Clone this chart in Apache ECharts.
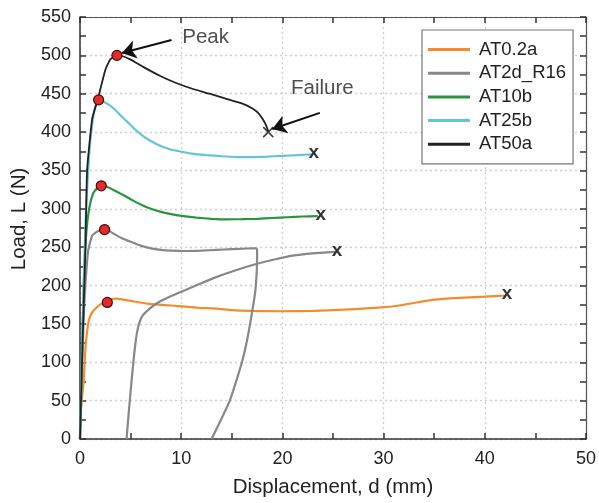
<!DOCTYPE html>
<html>
<head>
<meta charset="utf-8">
<script src="https://cdn.jsdelivr.net/npm/echarts@6/dist/echarts.min.js"></script>
<style>html,body{margin:0;padding:0;background:#fff;}#c{width:599px;height:503px;}</style>
</head>
<body>
<div id="c"></div>
<script>
// ---- data (displacement mm, load N) ----
const seriesNames = ['AT0.2a', 'AT2d_R16', 'AT10b', 'AT25b', 'AT50a'];

const at02a = [[0,0],[0.05,30],[0.2,54],[0.37,76],[0.54,119],[0.86,154],[1.2,165],[1.7,172],[2.2,177],[2.7,181],[3.6,183],[5,180],[6.9,176],[9,174],[11.8,171],[13.5,170],[15,168],[17,167],[20,166.5],[23,167],[26,168.5],[29.8,171.5],[32,175],[34.7,181],[37,183.5],[40,185.5],[42,187]];

const at2dR16 = [[0,0],[0.2,90],[0.4,170],[0.55,205],[0.8,245],[1.2,265],[1.8,271],[2.43,273],[2.9,271],[3.4,267],[4.1,262],[5,257],[6,252],[7,248.5],[8,246.5],[9,245.5],[10.5,245],[12,245.5],[13.5,246.5],[15,247.5],[16.5,248.3],[17.4,248.5],[17.5,247],[17.5,235],[17.45,215],[17.3,190],[17.0,165],[16.6,135],[16.1,105],[15.5,78],[14.8,50],[14.0,27],[13.0,0],null,[4.6,0],[4.85,40],[5.1,76],[5.35,110],[5.6,136],[5.85,151],[6.2,161],[6.8,169],[7.6,177],[8.8,185],[10.2,193],[11.8,202],[13.45,211],[15.4,220],[17.4,228],[19.2,234],[21,239],[23,242],[25.2,244]];

const at10b = [[0,0],[0.2,120],[0.4,210],[0.6,265],[0.9,300],[1.3,320],[1.7,327],[2.1,330],[2.6,329],[3.1,326],[3.7,322],[4.4,317],[5.2,311],[6.1,305],[7.0,300],[8.0,296],[9.0,293],[10.2,290.5],[11.5,288.5],[13,287],[14.5,286.3],[16,286.5],[17.5,287],[19,288],[20.5,289],[22,290],[23.5,290.5]];

const at25b = [[0,0],[0.2,110],[0.4,220],[0.6,300],[0.9,370],[1.2,410],[1.5,432],[1.84,442],[2.3,440],[2.8,436],[3.4,430],[4.0,422],[4.7,413],[5.4,404],[6.1,396],[6.9,389],[7.8,383],[8.8,378],[9.8,375],[11,372],[12.5,370],[14,368.5],[15.5,367.5],[17,367.5],[18.5,368],[20,369],[21.5,370],[22.9,371]];

const at50a = [[0,0],[0.2,100],[0.4,190],[0.55,255],[0.7,350],[1.2,417],[1.8,445],[2.5,481],[3.0,495],[3.65,500],[4.3,498.5],[5,494.5],[6.24,485],[7.88,473.5],[9.5,464],[11.1,456.5],[12.8,450],[14.4,443.5],[16.05,437],[17,431],[17.6,425],[18,418],[18.35,410],[18.6,401]];

const peakPoints = [[2.7,178],[2.43,273],[2.1,330],[1.84,442],[3.65,500]];
const endPoints = [[42,187],[25.2,243],[23.6,290],[22.9,370]];
const failurePoint = [[18.6,400]];

const annotations = [[10.05,523,'Peak'],[20.8,457,'Failure']];
const arrows = [[[9.04,520],[4.14,503]],[[23.7,425],[19.0,404]]];

const colors = ['#f28c2e', '#888888', '#27963f', '#62c6d6', '#222222'];
const lineWidths = [2.2, 2.2, 2.2, 2.2, 1.8];

// ---- chart ----
const FONT = 'Liberation Sans, Arial, sans-serif';
const chart = echarts.init(document.getElementById('c'), null, {renderer: 'canvas'});

const allData = [at02a, at2dR16, at10b, at25b, at50a];
const lineSeries = allData.map((d, i) => ({
  name: seriesNames[i],
  type: 'line',
  data: d.map(p => p === null ? ['-', '-'] : p),
  showSymbol: false,
  symbol: 'none',
  smooth: 0.15,
  connectNulls: false,
  lineStyle: {color: colors[i], width: lineWidths[i]},
  itemStyle: {color: colors[i]},
  z: 3 + (i === 4 ? 1 : 0),
  animation: false
}));

const axisCommon = {
  type: 'value',
  axisLine: {show: true, onZero: false, lineStyle: {color: '#333', width: 1.5}},
  axisTick: {show: true, inside: true, length: 6, lineStyle: {color: '#333', width: 1.5}},
  minorTick: {show: true, splitNumber: 2, length: 6, lineStyle: {color: '#333', width: 1.5}},
};

const option = {
  animation: false,
  backgroundColor: '#fff',
  grid: {left: 80, top: 17, width: 509, height: 425, containLabel: false},
  legend: {
    data: seriesNames,
    orient: 'vertical',
    left: 422, top: 30,
    padding: [10, 7, 10, 6],
    itemGap: 4.7,
    itemWidth: 42, itemHeight: 3,
    icon: 'rect',
    borderColor: '#777', borderWidth: 1.2,
    backgroundColor: '#fff',
    textStyle: {fontFamily: FONT, fontSize: 18.5, color: '#222', lineHeight: 18, padding: [0,0,0,4]},
  },
  xAxis: [
    Object.assign({}, axisCommon, {
      position: 'bottom', min: 0, max: 50, interval: 10,
      name: 'Displacement, d (mm)', nameLocation: 'middle', nameGap: 38,
      nameTextStyle: {fontFamily: FONT, fontSize: 20.5, color: '#222'},
      axisLabel: {fontFamily: FONT, fontSize: 18, color: '#222', margin: 11},
      splitLine: {show: true, lineStyle: {color: '#cfcfcf', type: [2, 3], width: 1.3}},
    }),
    Object.assign({}, axisCommon, {
      position: 'top', min: 0, max: 50, interval: 10,
      axisLabel: {show: false}, splitLine: {show: false},
      axisLine: {show: true, onZero: false, lineStyle: {color: '#555', width: 1.2}},
    })
  ],
  yAxis: [
    Object.assign({}, axisCommon, {
      position: 'left', min: 0, max: 550, interval: 50,
      name: 'Load, L (N)', nameLocation: 'middle', nameGap: 47, nameRotate: 90,
      nameTextStyle: {fontFamily: FONT, fontSize: 20.5, color: '#222', padding: [0, 0, 0, 18]},
      axisLabel: {fontFamily: FONT, fontSize: 18, color: '#222', margin: 9},
      splitLine: {show: true, lineStyle: {color: '#cfcfcf', type: [2, 3], width: 1.3}},
    }),
    Object.assign({}, axisCommon, {
      position: 'right', min: 0, max: 550, interval: 50,
      axisLabel: {show: false}, splitLine: {show: false},
      axisLine: {show: true, onZero: false, lineStyle: {color: '#555', width: 1.2}},
    })
  ],
  series: lineSeries.concat([
    {
      name: 'peaks', type: 'scatter', data: peakPoints,
      symbol: 'circle', symbolSize: 10,
      itemStyle: {color: '#e42a2a', borderColor: '#4a0a0a', borderWidth: 1.2, opacity: 1},
      z: 10
    },
    {
      name: 'ends', type: 'scatter', data: endPoints,
      symbol: 'circle', symbolSize: 1,
      itemStyle: {color: 'rgba(0,0,0,0)'},
      label: {show: true, position: 'inside', formatter: 'x', fontFamily: FONT, fontSize: 19, fontWeight: 'bold', color: '#000', offset: [2, -2]},
      z: 10
    },
    {
      name: 'failure', type: 'scatter', data: failurePoint,
      symbol: 'path://M0,0L10,10M10,0L0,10', symbolSize: 10,
      itemStyle: {color: 'none', borderColor: '#111', borderWidth: 1.6},
      z: 10
    },
    {
      name: 'notes', type: 'scatter', data: annotations,
      symbol: 'circle', symbolSize: 1,
      itemStyle: {color: 'rgba(0,0,0,0)'},
      label: {show: true, position: 'right', distance: 0, formatter: p => p.data[2], fontFamily: FONT, fontSize: 20.5, color: '#222'},
      z: 10
    },
    {
      name: 'arrows', type: 'line', data: [],
      markLine: {
        silent: true, animation: false,
        symbol: ['none', 'arrow'], symbolSize: 14,
        itemStyle: {color: '#111'},
        lineStyle: {color: '#111', width: 2, type: 'solid'},
        label: {show: false},
        data: arrows.map(a => [{coord: a[0]}, {coord: a[1]}])
      },
      z: 9
    }
  ])
};
chart.setOption(option);
</script>
</body>
</html>
